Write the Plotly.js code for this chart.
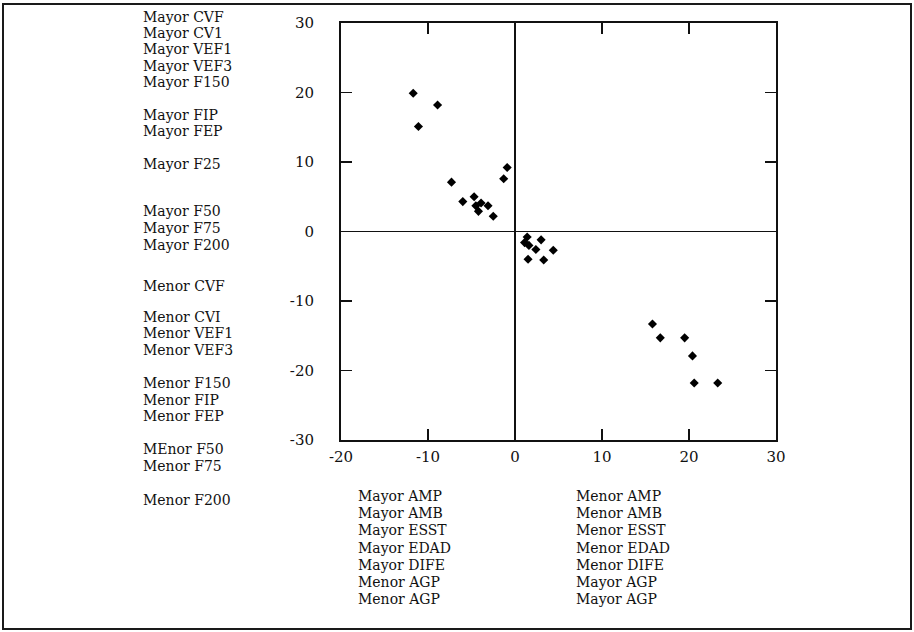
<!DOCTYPE html>
<html>
<head>
<meta charset="utf-8">
<script src="https://cdn.plot.ly/plotly-3.0.1.min.js"></script>
<style>
  html, body { margin: 0; padding: 0; background: #ffffff; }
  #chart { width: 914px; height: 632px; }
</style>
</head>
<body>
<div id="chart"></div>
<script>
// ---- data ----
const xValues = [-11.7, -8.9, -11.1, -7.3, -0.9, -1.3, -6.0, -4.7, -4.5, -3.9, -4.2, -3.1, -2.5,
                 1.4, 1.1, 1.6, 3.0, 2.4, 4.4, 1.5, 3.3,
                 15.8, 16.7, 19.5, 20.4, 20.6, 23.3];
const yValues = [19.9, 18.2, 15.1, 7.1, 9.2, 7.6, 4.3, 5.0, 3.7, 4.1, 2.9, 3.7, 2.2,
                 -0.8, -1.6, -2.0, -1.2, -2.6, -2.7, -4.0, -4.1,
                 -13.3, -15.3, -15.3, -17.9, -21.8, -21.8];

const xTickVals = [-20, -10, 0, 10, 20, 30];
const xTickText = ["-20", "-10", "0", "10", "20", "30"];
const yTickVals = [-30, -20, -10, 0, 10, 20, 30];
const yTickText = ["-30", "-20", "-10", "0", "10", "20", "30"];

const leftLabels = ["Mayor CVF", "Mayor CV1", "Mayor VEF1", "Mayor VEF3", "Mayor F150",
                    "Mayor FIP", "Mayor FEP", "Mayor F25", "Mayor F50", "Mayor F75", "Mayor F200",
                    "Menor CVF", "Menor CVI", "Menor VEF1", "Menor VEF3",
                    "Menor F150", "Menor FIP", "Menor FEP", "MEnor F50", "Menor F75", "Menor F200"];
const bottomLeftLabels = ["Mayor AMP", "Mayor AMB", "Mayor ESST", "Mayor EDAD", "Mayor DIFE", "Menor AGP", "Menor AGP"];
const bottomRightLabels = ["Menor AMP", "Menor AMB", "Menor ESST", "Menor EDAD", "Menor DIFE", "Mayor AGP", "Mayor AGP"];

// ---- layout (pixel geometry) ----
const W = 914, H = 632;
const M = {l: 341, r: 138, t: 23, b: 192};
const plotW = W - M.l - M.r, plotH = H - M.t - M.b;
const px2x = p => (p - M.l) / plotW;
const px2y = p => (H - M.b - p) / plotH;

const leftRowsPx = [17, 33.2, 49.4, 65.8, 82.2, 114.6, 131, 163.6, 211.4, 228, 244.6, 286, 317, 333.4, 349.8, 383, 399.6, 416.2, 449, 465.6, 500];
const bottomTopPx = 496, bottomStepPx = 17.2;

const FONT = "DejaVu Serif, Liberation Serif, serif";
const INK = "#111111";
const LABEL_SIZE = 14;

const annotations = [];
leftLabels.forEach((t, i) => annotations.push({
  text: t, xref: "paper", yref: "paper", x: px2x(142), y: px2y(leftRowsPx[i]),
  xanchor: "left", yanchor: "middle", showarrow: false, borderpad: 0,
  font: {family: FONT, size: LABEL_SIZE, color: INK}
}));
bottomLeftLabels.forEach((t, i) => annotations.push({
  text: t, xref: "paper", yref: "paper", x: px2x(357), y: px2y(bottomTopPx + i * bottomStepPx),
  xanchor: "left", yanchor: "middle", showarrow: false, borderpad: 0,
  font: {family: FONT, size: LABEL_SIZE, color: INK}
}));
bottomRightLabels.forEach((t, i) => annotations.push({
  text: t, xref: "paper", yref: "paper", x: px2x(575), y: px2y(bottomTopPx + i * bottomStepPx),
  xanchor: "left", yanchor: "middle", showarrow: false, borderpad: 0,
  font: {family: FONT, size: LABEL_SIZE, color: INK}
}));

const shapes = [{
  type: "rect", xref: "paper", yref: "paper",
  x0: px2x(3), x1: px2x(911), y0: px2y(629), y1: px2y(4),
  line: {color: "#1a1a1a", width: 2}, fillcolor: "rgba(0,0,0,0)", layer: "below"
}];

const axisCommon = {
  showgrid: false, showline: true, linecolor: INK, linewidth: 2, mirror: "ticks",
  ticks: "inside", ticklen: 11, tickwidth: 1.5, tickcolor: INK,
  zeroline: true, zerolinecolor: INK, zerolinewidth: 1.5,
  tickfont: {family: FONT, size: 15, color: INK}, tickmode: "array"
};

const trace = {
  type: "scatter", mode: "markers", x: xValues, y: yValues,
  marker: {symbol: "diamond", size: 7, color: "#000000"},
  hoverinfo: "x+y", cliponaxis: false
};

const layout = {
  width: W, height: H, margin: M,
  paper_bgcolor: "#ffffff", plot_bgcolor: "#ffffff",
  showlegend: false,
  xaxis: Object.assign({}, axisCommon, {range: [-20, 30], tickvals: xTickVals, ticktext: xTickText, ticklabelstandoff: 2}),
  yaxis: Object.assign({}, axisCommon, {range: [-30, 30], tickvals: yTickVals, ticktext: yTickText, ticklabelstandoff: 22}),
  annotations: annotations,
  shapes: shapes
};

Plotly.newPlot("chart", [trace], layout, {displayModeBar: false, staticPlot: true});
</script>
</body>
</html>
